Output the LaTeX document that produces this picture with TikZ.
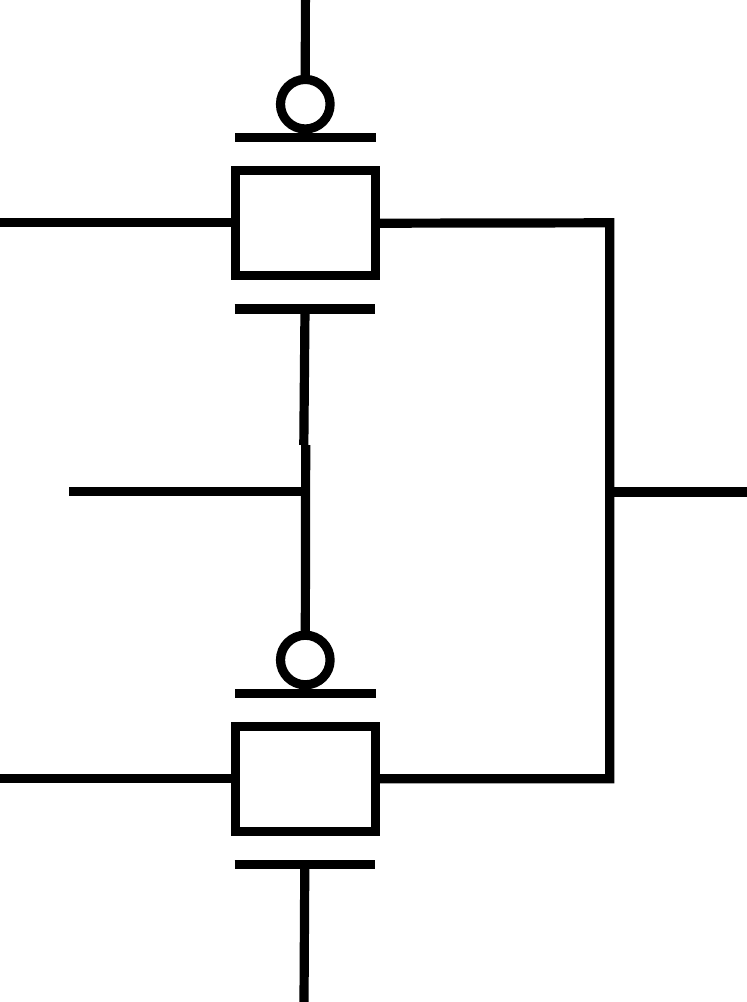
\documentclass[tikz,border=0pt]{standalone}
\begin{document}
\begin{tikzpicture}[x=1pt,y=-1pt,
  wire/.style={line width=9.2pt,black,line cap=butt},
  gatebox/.style={draw=black,line width=9.2pt,minimum width=140pt,minimum height=105pt,inner sep=0pt,outer sep=0pt},
  bubble/.style={circle,draw=black,line width=9.2pt,minimum size=49.6pt,inner sep=0pt,outer sep=0pt}]
\useasboundingbox (0,0) rectangle (747,1002);
% boxes and bubbles
\node[gatebox] (boxA) at (305.4,222.8) {};
\node[gatebox] (boxB) at (305.4,778.8) {};
\node[bubble] (bubA) at (305.3,104.2) {};
\node[bubble] (bubB) at (305.3,660) {};
% free ends
\coordinate (topEnd) at (305.4,0);
\coordinate (leftA) at (0,222.8);
\coordinate (leftB) at (0,778.7);
\coordinate (midL) at (69,491.8);
\coordinate (midJ) at (305.7,491.8);
\coordinate (rightJ) at (609.7,492);
\coordinate (rightEnd) at (747,492);
\coordinate (rightA) at (380,223.2);
\coordinate (rightB) at (380,778.7);
\coordinate (cornerA) at (609.7,222.8);
\coordinate (cornerB) at (609.7,778.7);
\coordinate (bot) at (304,1002);
\coordinate (barAa) at (235,137.2);
\coordinate (barAb) at (375.5,137.2);
\coordinate (barBa) at (234.5,309);
\coordinate (barBb) at (374.8,309);
\coordinate (barCa) at (235,693.2);
\coordinate (barCb) at (375.5,693.2);
\coordinate (barDa) at (234.5,864.7);
\coordinate (barDb) at (374.8,864.7);
\coordinate (stemA) at (305,309);
\coordinate (stemB) at (303.8,445);
\coordinate (stemC) at (305.7,445);
\coordinate (stemD) at (304.8,864.7);
% connectors
\draw[wire] (topEnd) -- (bubA.north);
\draw[wire] (barAa) -- (barAb);
\draw[wire] (barBa) -- (barBb);
\draw[wire] (barCa) -- (barCb);
\draw[wire] (barDa) -- (barDb);
\draw[wire] (leftA) -- (boxA.west |- leftA);
\draw[wire] (leftB) -- (boxB.west |- leftB);
\draw[wire,line join=miter] (rightA) -- (cornerA) -- (cornerB) -- (rightB);
\draw[wire] (stemA) -- (stemB);
\draw[wire] (stemC) -- (bubB.north);
\draw[wire] (midL) -- (midJ);
\draw[wire] (rightJ) -- (rightEnd);
\draw[wire] (stemD) -- (bot);
\end{tikzpicture}
\end{document}
